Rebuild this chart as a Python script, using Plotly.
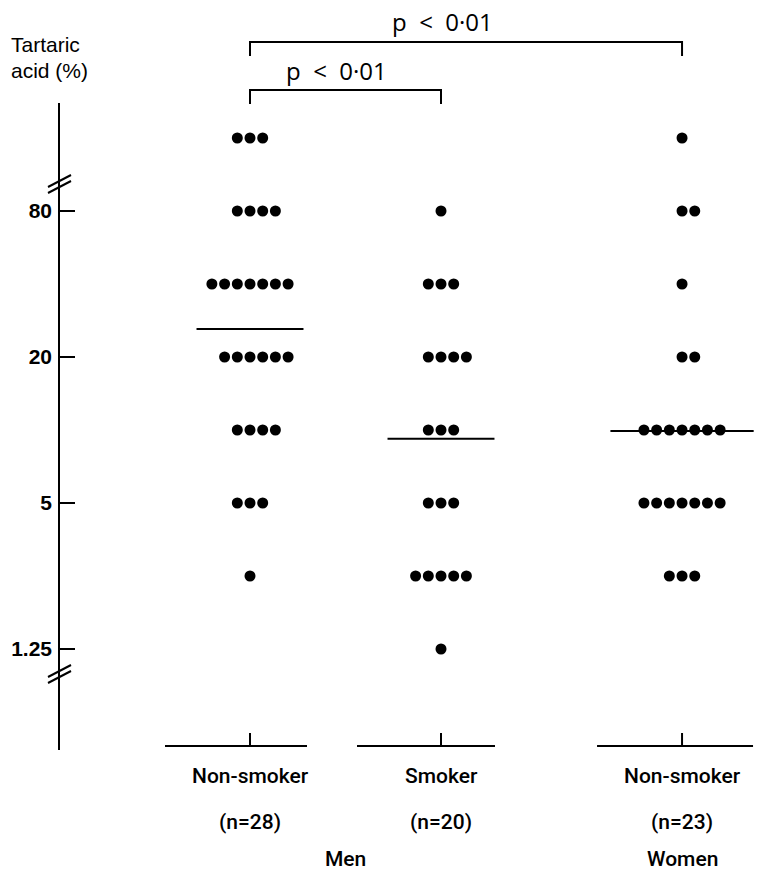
import plotly.graph_objects as go

# ---- data ----
groups = ["Non-smoker (Men)", "Smoker (Men)", "Non-smoker (Women)"]
group_pos = [0.0, 1.0, 2.262]
levels = [160, 80, 40, 20, 10, 5, 2.5, 1.25]
counts_men_nonsmoker = [3, 4, 7, 6, 4, 3, 1, 0]
counts_men_smoker = [0, 1, 3, 4, 3, 3, 5, 1]
counts_women_nonsmoker = [1, 2, 1, 2, 7, 7, 3, 0]
medians = [26.1, 9.2, 9.9]
median_halfwidth = [0.28, 0.28, 0.375]
tick_vals = [80, 20, 5, 1.25]
tick_text = ["80", "20", "5", "1.25"]
group_labels = ["Non-smoker", "Smoker", "Non-smoker"]
n_labels = ["(n=28)", "(n=20)", "(n=23)"]

W, H = 765, 872
L = 59
PW = W - L
SP = 0.0665  # dot spacing in x units

def px(p):   # pixel x -> paper
    return (p - L) / PW

def py(p):   # pixel y -> paper
    return 1 - p / H

fig = go.Figure()

all_counts = [counts_men_nonsmoker, counts_men_smoker, counts_women_nonsmoker]
for gi, counts in enumerate(all_counts):
    xs, ys = [], []
    for lev, k in zip(levels, counts):
        start = -((k - 1) // 2)
        for i in range(k):
            xs.append(group_pos[gi] + (start + i) * SP)
            ys.append(lev)
    fig.add_trace(go.Scatter(x=xs, y=ys, mode="markers", name=groups[gi],
                             marker=dict(color="black", size=11, line=dict(width=0)),
                             showlegend=False, cliponaxis=False))

# median lines
for gi in range(3):
    fig.add_trace(go.Scatter(
        x=[group_pos[gi] - median_halfwidth[gi], group_pos[gi] + median_halfwidth[gi]],
        y=[medians[gi], medians[gi]], mode="lines",
        line=dict(color="black", width=2), showlegend=False, hoverinfo="skip"))

shapes = []
# y axis line
shapes.append(dict(type="line", xref="paper", yref="paper", x0=0, x1=0,
                   y0=py(103), y1=py(750), line=dict(color="black", width=2)))
# break marks
for (yc) in [184, 674]:
    for d in [-3, 3]:
        shapes.append(dict(type="line", xref="paper", yref="paper",
                           x0=px(48), x1=px(71), y0=py(yc + d + 6), y1=py(yc + d - 6),
                           line=dict(color="black", width=2)))
# bottom group segments with ticks
seg = [(-85, 57), (-84, 54), (-85, 71)]
for gi in range(3):
    xc = group_pos[gi]
    shapes.append(dict(type="line", xref="x", yref="paper",
                       x0=xc + seg[gi][0] / 191, x1=xc + seg[gi][1] / 191,
                       y0=py(746), y1=py(746), line=dict(color="black", width=2)))
    shapes.append(dict(type="line", xref="x", yref="paper", x0=xc, x1=xc,
                       y0=py(746), y1=py(733), line=dict(color="black", width=2)))
# significance brackets
for (a, b, yb, yd) in [(0, 2, 42, 56), (0, 1, 90, 104)]:
    xa, xb = group_pos[a], group_pos[b]
    shapes.append(dict(type="path", xref="x", yref="paper",
                       path=f"M {xa},{py(yd)} L {xa},{py(yb)} L {xb},{py(yb)} L {xb},{py(yd)}",
                       line=dict(color="black", width=2)))

ann = []
font_lab = dict(family="Roboto", size=21, color="black", weight=500)
for gi in range(3):
    ann.append(dict(x=group_pos[gi], y=py(776), xref="x", yref="paper", text=group_labels[gi],
                    showarrow=False, font=font_lab, xanchor="center", yanchor="middle"))
    ann.append(dict(x=group_pos[gi], y=py(822), xref="x", yref="paper", text=n_labels[gi],
                    showarrow=False, font=font_lab, xanchor="center", yanchor="middle"))
ann.append(dict(x=(345 - 250) / 191, y=py(859), xref="x", yref="paper", text="Men",
                showarrow=False, font=font_lab, xanchor="center", yanchor="middle"))
ann.append(dict(x=group_pos[2], y=py(859), xref="x", yref="paper", text="Women",
                showarrow=False, font=font_lab, xanchor="center", yanchor="middle"))
font_t = dict(family="Liberation Sans", size=21, color="black")
ann.append(dict(x=px(9), y=py(44), xref="paper", yref="paper", text="Tartaric",
                showarrow=False, font=font_t, xanchor="left", yanchor="middle"))
ann.append(dict(x=px(9), y=py(71), xref="paper", yref="paper", text="acid (%)",
                showarrow=False, font=font_t, xanchor="left", yanchor="middle"))
font_p = dict(family="Open Sans", size=24, color="black")
ptxt = "p&nbsp;&nbsp;&lt;&nbsp;&nbsp;0·01"
ann.append(dict(x=(442 - 250) / 191, y=py(21), xref="x", yref="paper", text=ptxt,
                showarrow=False, font=font_p, xanchor="center", yanchor="middle"))
ann.append(dict(x=(336 - 250) / 191, y=py(71), xref="x", yref="paper", text=ptxt,
                showarrow=False, font=font_p, xanchor="center", yanchor="middle"))

fig.update_layout(
    width=W, height=H, margin=dict(l=L, r=0, t=0, b=0),
    plot_bgcolor="white", paper_bgcolor="white",
    shapes=shapes, annotations=ann,
    xaxis=dict(range=[(L - 250) / 191, (W - 250) / 191], visible=False, fixedrange=True),
    yaxis=dict(type="log", range=[-0.82268, 2.77319], showgrid=False, zeroline=False,
               showline=False, tickvals=tick_vals, ticktext=tick_text,
               ticks="inside", ticklen=16, tickwidth=2, tickcolor="black",
               ticklabelstandoff=6,
               tickfont=dict(family="Liberation Sans", size=21, color="black", weight="bold")),
)

fig.write_html("out.html", config={"displayModeBar": False},
               post_script="document.body.style.margin='0';")
